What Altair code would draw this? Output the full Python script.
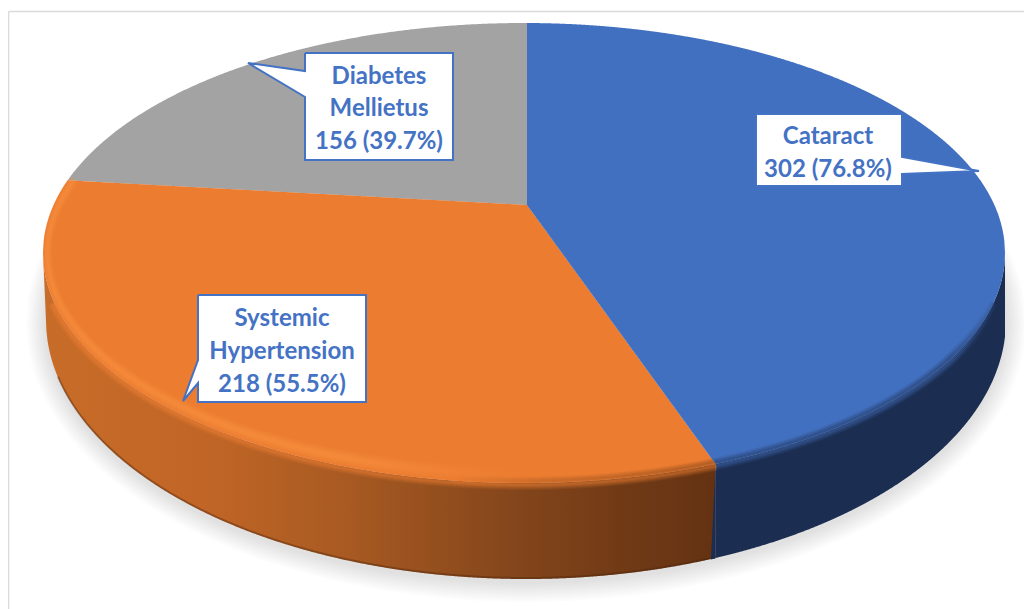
import numpy as np
import pandas as pd
import altair as alt

# ---- values
categories = ["Cataract", "Systemic Hypertension", "Diabetes Mellietus"]
counts = [302, 218, 156]
percents = [76.8, 55.5, 39.7]

# ---- layout of the drawing (pixels of the page)
CX, RX, CY, RY = 524.0, 481.0, 253.0, 230.0      # rim of the top face
AX, AY = 527.0, 205.0                            # apparent centre of the pie
K, R = -0.2035, 471.0                            # perspective of the disc
WX, WRX, WCY, WRY = 526.0, 480.0, 320.0, 259.0   # bottom edge of the wall
SEAM_BOTTOM_X = 711.0                            # foot of the orange/blue seam

BLUE, ORANGE, GRAY = "#4270C0", "#EB7C30", "#A3A3A3"
NAVY = "#1B2D50"
TEXT_BLUE = "#4472C4"
FONT = "Lato"


def rim_up(x):
    return CY - RY * np.sqrt(np.clip(1 - ((x - CX) / RX) ** 2, 0, 1))


def rim_lo(x):
    return CY + RY * np.sqrt(np.clip(1 - ((x - CX) / RX) ** 2, 0, 1))


def wall_lo(x):
    x = np.asarray(x, dtype=float)
    y = WCY + WRY * np.sqrt(np.clip(1 - ((x - WX) / WRX) ** 2, 0, 1))
    left = CX - RX
    lo = WX - WRX
    y = np.where(x < lo, CY + (WCY - CY) * (x - left) / (lo - left), y)
    return y


shares = np.array(counts) / sum(counts)
angles = np.cumsum(shares) * 2 * np.pi


def edge_x(theta):
    return CX + R * np.sin(theta) / (1 - K * np.cos(theta))


x1 = float(edge_x(angles[0]))   # cataract / hypertension
x2 = float(edge_x(angles[1]))   # hypertension / diabetes
y1 = float(rim_lo(np.array(x1)))
y2 = float(rim_up(np.array(x2)))

X = alt.X("x:Q", scale=alt.Scale(domain=[8, 1024], nice=False, zero=False), axis=None)
Y = alt.Y("y:Q", scale=alt.Scale(domain=[609, 8], nice=False, zero=False), axis=None)
Y2 = alt.Y2("y2:Q")


def area(df, **kw):
    return alt.Chart(df).mark_area(interpolate="linear", **kw).encode(x=X, y=Y, y2=Y2)


def line(df, **kw):
    return alt.Chart(df).mark_line(interpolate="linear", **kw).encode(x=X, y=Y, order="o:Q")


def grad(stops):
    return alt.LinearGradient(
        gradient="linear",
        stops=[alt.GradientStop(offset=o, color=c) for o, c in stops],
        x1=0, x2=1, y1=0, y2=0,
    )


layers = []

# soft shadow below the disc
for g in np.linspace(2, 20, 10):
    xs = np.linspace(WX - WRX - g, WX + WRX + g, 500)
    h = (WRY + g) * np.sqrt(np.clip(1 - ((xs - WX) / (WRX + g)) ** 2, 0, 1))
    layers.append(area(pd.DataFrame({"x": xs, "y": WCY + 3 + h, "y2": WCY + 3 - h}),
                       color="#000000", opacity=0.013))

# walls
xs = np.linspace(CX - RX, x1, 600)
wall_o = pd.DataFrame({"x": xs, "y": rim_lo(xs), "y2": np.maximum(rim_lo(xs), wall_lo(xs))})
ORANGE_WALL = grad([(0, "#C86C29"), (0.25, "#C06526"), (0.45, "#A85A22"),
                    (0.7, "#84461B"), (0.85, "#723B16"), (1, "#643212")])
layers.append(area(wall_o, color=ORANGE_WALL))

# dark lower edge of the orange wall
xs = np.linspace(WX - WRX + 12, SEAM_BOTTOM_X, 400)
layers.append(line(pd.DataFrame({"x": xs, "y": wall_lo(xs) - 1, "o": np.arange(len(xs))}),
                   color="#4A250C", strokeWidth=2, opacity=0.4))

xs = np.linspace(x1, CX + RX, 400)
wall_b = pd.DataFrame({"x": xs, "y": rim_lo(xs), "y2": np.maximum(rim_lo(xs), wall_lo(xs))})
layers.append(area(wall_b, color=NAVY))
# the seam between the walls leans slightly inwards towards the foot
xs = np.linspace(SEAM_BOTTOM_X, x1, 12)
seam_y = y1 + (wall_lo(SEAM_BOTTOM_X) - y1) * (x1 - xs) / (x1 - SEAM_BOTTOM_X)
layers.append(area(pd.DataFrame({"x": xs, "y": seam_y, "y2": wall_lo(xs) + 0.5}), color=NAVY))

# top faces, drawn from the shares
xs = np.unique(np.r_[np.linspace(x2, AX, 300)])
layers.append(area(pd.DataFrame({
    "x": xs, "y": rim_up(xs),
    "y2": AY + (y2 - AY) * (AX - xs) / (AX - x2)}), color=GRAY))

xs = np.unique(np.r_[np.linspace(CX - RX, x1, 900), x2, AX])
top = np.where(xs < x2, rim_up(xs),
               np.where(xs < AX, AY + (y2 - AY) * (AX - xs) / (AX - x2),
                        AY + (y1 - AY) * (xs - AX) / (x1 - AX)))
layers.append(area(pd.DataFrame({"x": xs, "y": top, "y2": rim_lo(xs)}), color=ORANGE))

xs = np.unique(np.r_[np.linspace(AX, CX + RX, 700), x1])
bottom = np.where(xs < x1, AY + (y1 - AY) * (xs - AX) / (x1 - AX), rim_lo(xs))
layers.append(area(pd.DataFrame({"x": xs, "y": rim_up(xs), "y2": bottom}), color=BLUE))


# blurred junction of face and wall
def arc(t0, t1, off_x=0.0, off_y=0.0, n=500):
    t = np.linspace(t0, t1, n)
    return pd.DataFrame({"x": CX + (RX + off_x) * np.sin(t),
                         "y": CY - (RY + off_y) * np.cos(t),
                         "o": np.arange(n)})


t_b0 = np.pi / 2 + 0.22
t_b1 = float(np.arccos((CY - y1) / RY))
t_o1 = float(2 * np.pi - np.arccos((CY - y2) / RY))
SOFT = [(10, 0.08), (8, 0.1), (6, 0.12), (4, 0.14), (2, 0.16)]
NAVY_F = grad([(0, NAVY), (0.85, NAVY), (1, BLUE)])
BLUE_F = grad([(0, BLUE), (0.85, BLUE), (1, NAVY)])
for w, op in SOFT:
    layers.append(line(arc(t_b0, t_b1, -1.5, -1.5), stroke=NAVY_F, strokeWidth=w, opacity=op))
    layers.append(line(arc(t_b0, t_b1, 1.5, 1.5), stroke=BLUE_F, strokeWidth=w, opacity=op))

# bevel highlight on the orange face: wider at the front than at the side
HI = grad([(0, "#F68B3B"), (0.62, "#F78D3D"), (1, ORANGE)])
for s, op in [(1.0, 0.15), (0.8, 0.2), (0.6, 0.25), (0.4, 0.35), (0.2, 0.4)]:
    df = arc(t_o1, np.pi, -4.5, -9)
    t = np.linspace(t_o1, np.pi, len(df))
    df["w"] = s * (9 + 7 * np.abs(np.cos(t)))
    layers.append(alt.Chart(df).mark_trail(color=HI, opacity=op).encode(
        x=X, y=Y, order="o:Q", size=alt.Size("w:Q", scale=None, legend=None)))

SIDE = grad([(0, ORANGE), (0.35, "#9A521F"), (1, "#643212")])
for w, op in SOFT:
    layers.append(line(arc(t_b1, np.pi + 0.15, -1.5, -1.5), stroke=SIDE, strokeWidth=w, opacity=op))
FACE = grad([(0, "#F08034"), (1, ORANGE)])
for w, op in SOFT:
    layers.append(line(arc(t_b1, np.pi * 1.5 - 0.22, 2.0, 2.0), stroke=FACE, strokeWidth=w, opacity=op * 1.2))

# panel border
layers.append(alt.Chart(pd.DataFrame({"x": [8.5], "x2": [1024], "y": [11.5]})).mark_rule(
    color="#DADADA", strokeWidth=1.5).encode(x=X, x2="x2:Q", y=Y))
layers.append(alt.Chart(pd.DataFrame({"x": [8.5], "y": [11.5], "y2": [609]})).mark_rule(
    color="#DADADA", strokeWidth=1.5).encode(x=X, y=Y, y2=Y2))

# call-outs: box (left, right, top, bottom), tail (base y, base y, tip x, tip y)
callouts = [
    dict(box=(756, 902, 114, 186), tail=(157, 174, 979, 171), side="right", cx=828,
         lines=["Cataract", f"{counts[0]} ({percents[0]}%)"], ys=[137, 170]),
    dict(box=(198, 366, 295, 402), tail=(360, 383, 183, 401), side="left", cx=282,
         lines=["Systemic", "Hypertension", f"{counts[1]} ({percents[1]}%)"], ys=[319, 352, 385]),
    dict(box=(305, 453, 53, 160), tail=(71, 97, 248, 63), side="left", cx=379,
         lines=["Diabetes", "Mellietus", f"{counts[2]} ({percents[2]}%)"], ys=[77, 109, 142]),
]
for c in callouts:
    l, r, t, b = c["box"]
    ya, yb, tx, ty = c["tail"]
    base = r if c["side"] == "right" else l
    tail = pd.DataFrame({"x": [min(base, tx), max(base, tx)]})
    if c["side"] == "right":
        tail["y"] = [ya, ty]
        tail["y2"] = [yb, ty]
    else:
        tail["y"] = [ty, ya]
        tail["y2"] = [ty, yb]
    layers.append(alt.Chart(pd.DataFrame({"x": [l], "x2": [r], "y": [t], "y2": [b]})).mark_rect(
        color="#FFFFFF").encode(x=X, x2="x2:Q", y=Y, y2=Y2))
    layers.append(area(tail, color="#FFFFFF"))
    if c["side"] == "right":
        px = [l, r, r, tx, r, r, l, l]
        py = [t, t, ya, ty, yb, b, b, t]
    else:
        px = [l, r, r, l, l, tx, l, l]
        py = [t, t, b, b, yb, ty, ya, t]
    layers.append(line(pd.DataFrame({"x": px, "y": py, "o": range(len(px))}),
                       color=TEXT_BLUE, strokeWidth=2, strokeJoin="miter"))
    layers.append(alt.Chart(pd.DataFrame({"x": [c["cx"]] * len(c["lines"]), "y": c["ys"], "t": c["lines"]}))
                  .mark_text(font=FONT, fontSize=24, fontWeight="bold", color=TEXT_BLUE,
                             align="center", baseline="middle")
                  .encode(x=X, y=Y, text="t:N"))

chart = alt.layer(*layers).properties(
    width=1016, height=601, padding=0,
    autosize=alt.AutoSizeParams(type="none"),
    background="#FFFFFF",
).configure_view(stroke=None)

chart.save("out.html", embed_options={"renderer": "svg", "actions": False})
